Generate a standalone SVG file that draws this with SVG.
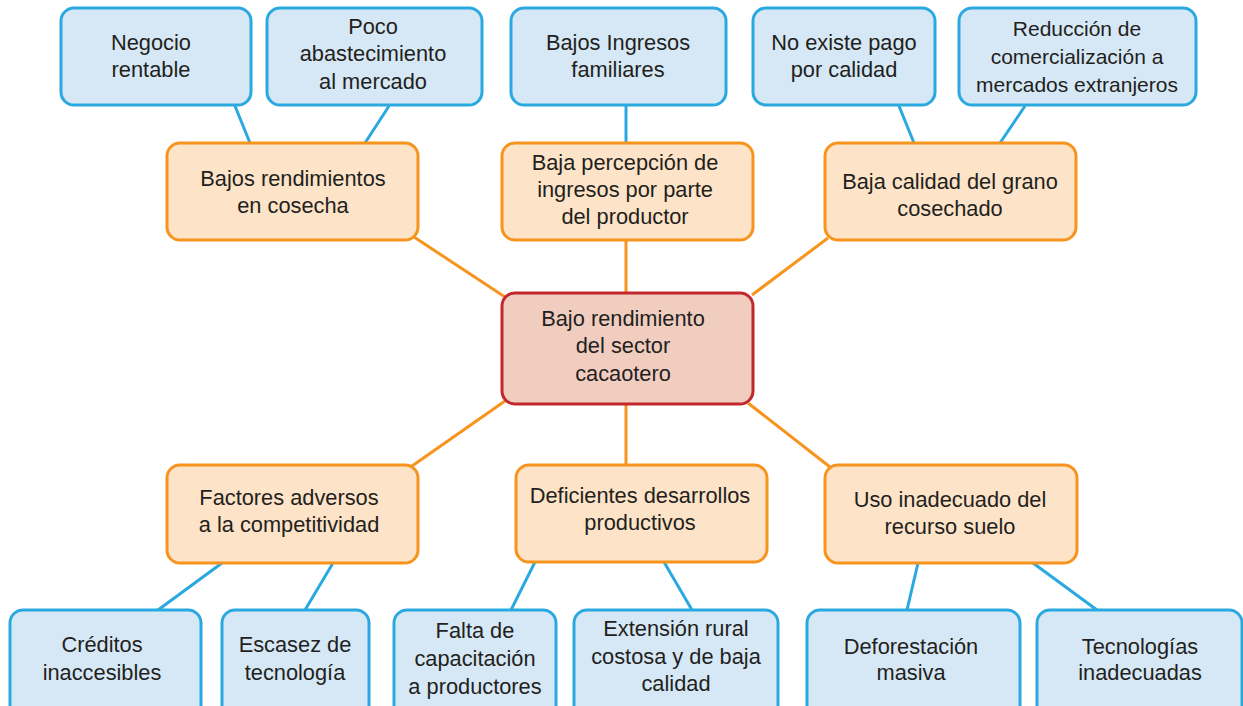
<svg xmlns="http://www.w3.org/2000/svg" width="1243" height="706" viewBox="0 0 1243 706">
<style>
.b rect{fill:#d6e8f6;stroke:#29a9e0;stroke-width:3}
.o rect{fill:#fde3c7;stroke:#f7941d;stroke-width:3}
.c rect{fill:#f1cdc0;stroke:#c1272d;stroke-width:3}
text{font-family:"Liberation Sans",Arial,sans-serif;font-size:21.8px;fill:#231f20;text-anchor:middle}
.s text{font-size:21px}
.lb line{stroke:#29a9e0;stroke-width:3}
.lo line{stroke:#f7941d;stroke-width:3}
</style>
<rect width="1243" height="706" fill="#ffffff"/>
<g id="connectors">
<g class="lb">
<line x1="235" y1="106" x2="250" y2="143"/>
<line x1="389" y1="106" x2="365" y2="143"/>
<line x1="626" y1="106" x2="626" y2="143"/>
<line x1="899" y1="106" x2="914" y2="143"/>
<line x1="1025" y1="106" x2="1000" y2="143"/>
<line x1="222" y1="563" x2="158" y2="610"/>
<line x1="333" y1="563" x2="305" y2="610"/>
<line x1="535" y1="562" x2="511" y2="610"/>
<line x1="664" y1="562" x2="692" y2="610"/>
<line x1="918" y1="563" x2="907" y2="610"/>
<line x1="1033" y1="563" x2="1097" y2="610"/>
</g>
<g class="lo">
<line x1="414" y1="237" x2="505" y2="297"/>
<line x1="626" y1="240" x2="626" y2="293"/>
<line x1="828" y1="238" x2="752" y2="295"/>
<line x1="505" y1="401" x2="412" y2="466"/>
<line x1="626" y1="404" x2="626" y2="465"/>
<line x1="748" y1="403" x2="830" y2="467"/>
</g>
</g>
<g id="n1" class="b"><rect x="61" y="8" width="190" height="97" rx="13"/><text x="151" y="50">Negocio</text><text x="151" y="77">rentable</text></g>
<g id="n2" class="b"><rect x="267" y="8" width="215" height="97" rx="13"/><text x="373" y="34">Poco</text><text x="373" y="61">abastecimiento</text><text x="373" y="89">al mercado</text></g>
<g id="n3" class="b"><rect x="511" y="8" width="215" height="97" rx="13"/><text x="618" y="50">Bajos Ingresos</text><text x="618" y="77">familiares</text></g>
<g id="n4" class="b"><rect x="753" y="8" width="182" height="97" rx="13"/><text x="844" y="50">No existe pago</text><text x="844" y="77">por calidad</text></g>
<g id="n5" class="b s"><rect x="959" y="8" width="237" height="97" rx="13"/><text x="1077" y="36">Reducción de</text><text x="1077" y="64">comercialización a</text><text x="1077" y="92">mercados extranjeros</text></g>
<g id="n6" class="o"><rect x="167" y="143" width="251" height="97" rx="13"/><text x="293" y="186">Bajos rendimientos</text><text x="293" y="213">en cosecha</text></g>
<g id="n7" class="o"><rect x="502" y="143" width="251" height="97" rx="13"/><text x="625" y="170">Baja percepción de</text><text x="625" y="197">ingresos por parte</text><text x="625" y="224">del productor</text></g>
<g id="n8" class="o"><rect x="825" y="143" width="251" height="97" rx="13"/><text x="950" y="189">Baja calidad del grano</text><text x="950" y="216">cosechado</text></g>
<g id="n9" class="c"><rect x="502" y="293" width="251" height="111" rx="13"/><text x="623" y="326">Bajo rendimiento</text><text x="623" y="353">del sector</text><text x="623" y="381">cacaotero</text></g>
<g id="n10" class="o"><rect x="167" y="465" width="251" height="98" rx="13"/><text x="289" y="505">Factores adversos</text><text x="289" y="532">a la competitividad</text></g>
<g id="n11" class="o"><rect x="516" y="465" width="251" height="97" rx="13"/><text x="640" y="503">Deficientes desarrollos</text><text x="640" y="530">productivos</text></g>
<g id="n12" class="o"><rect x="825" y="465" width="252" height="98" rx="13"/><text x="950" y="507">Uso inadecuado del</text><text x="950" y="534">recurso suelo</text></g>
<g id="n13" class="b"><rect x="10" y="610" width="191" height="110" rx="13"/><text x="102" y="652">Créditos</text><text x="102" y="680">inaccesibles</text></g>
<g id="n14" class="b"><rect x="222" y="610" width="147" height="110" rx="13"/><text x="295" y="652">Escasez de</text><text x="295" y="680">tecnología</text></g>
<g id="n15" class="b"><rect x="394" y="610" width="162" height="110" rx="13"/><text x="475" y="638">Falta de</text><text x="475" y="666">capacitación</text><text x="475" y="694">a productores</text></g>
<g id="n16" class="b"><rect x="574" y="610" width="204" height="110" rx="13"/><text x="676" y="636">Extensión rural</text><text x="676" y="664">costosa y de baja</text><text x="676" y="691">calidad</text></g>
<g id="n17" class="b"><rect x="807" y="610" width="213" height="110" rx="13"/><text x="911" y="654">Deforestación</text><text x="911" y="680">masiva</text></g>
<g id="n18" class="b"><rect x="1037" y="610" width="205" height="110" rx="13"/><text x="1140" y="654">Tecnologías</text><text x="1140" y="680">inadecuadas</text></g>
</svg>
